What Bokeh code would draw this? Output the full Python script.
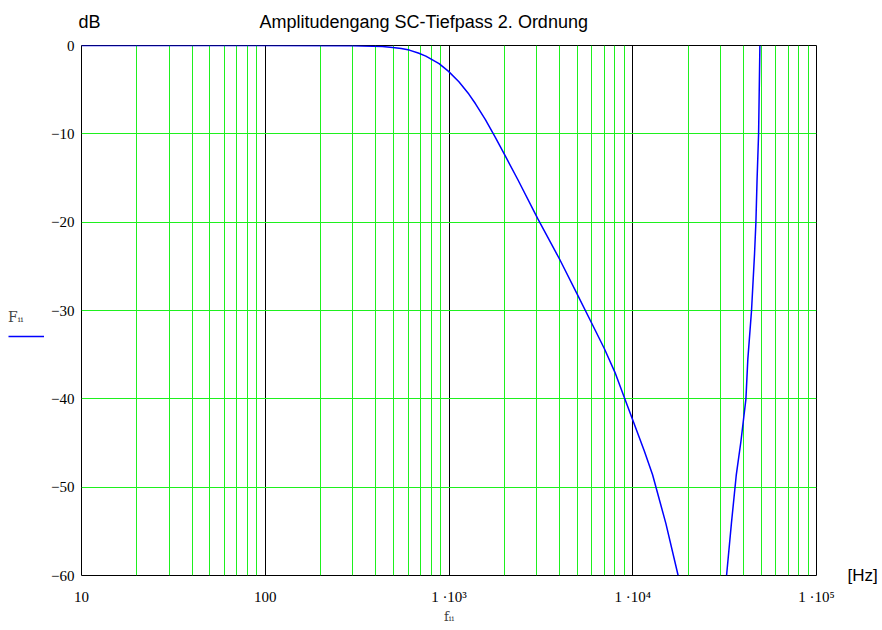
from bokeh.plotting import figure
from bokeh.layouts import row
from bokeh.models import FixedTicker, LogAxis, LinearAxis, Legend, LegendItem
from bokeh.embed import file_html
from bokeh.resources import INLINE

# ---- data ----
lp_freq = [10, 100, 300, 434, 494, 550, 608, 680, 748, 883, 991, 1132, 1282, 1394,
           1578, 1787, 2024, 2371, 3040, 4000, 5000, 6000, 7000, 8000, 8830,
           10000, 11560, 12820, 15140, 17660]
lp_db = [0.0, 0.0, -0.02, -0.12, -0.22, -0.35, -0.52, -0.85, -1.2, -2.05, -2.9,
         -4.1, -5.5, -6.6, -8.4, -10.4, -12.5, -15.2, -19.6, -24.2, -28.2, -31.5,
         -34.3, -37.0, -39.4, -42.4, -45.9, -48.6, -54.1, -60.0]

notch_freq = [32400, 34430, 36600, 38800, 41300, 42300, 44300, 46000, 46800,
              47500, 48400, 49200]
notch_db = [-60.0, -54.1, -48.6, -44.8, -40.0, -35.5, -30.0, -23.6, -20.0,
            -15.1, -10.0, 0.0]

x_ticks = [10, 100, 1000, 10000, 100000]
x_tick_labels = ["10", "100", "1 \u00b710\u00b3", "1 \u00b710\u2074", "1 \u00b710\u2075"]
y_ticks = [-60, -50, -40, -30, -20, -10, 0]
y_tick_labels = ["\u221260", "\u221250", "\u221240", "\u221230", "\u221220", "\u221210", "0"]
minor_x = [m * d for d in [10, 100, 1000, 10000] for m in range(2, 10)]

title_text = "Amplitudengang SC-Tiefpass 2. Ordnung"
unit_y = "dB"
unit_x = "[Hz]"
x_name = "f\u1d62\u1d62"
y_name = "F\u1d62\u1d62"

# header text anchors along the x scale (layout only)
header_pos = [11.05, 728.0]

GREEN = "#1ef01e"
BLUE = "#0000ff"

p = figure(width=832, height=626, x_axis_type="log",
           x_range=(10, 100000), y_range=(-60, 0),
           output_backend="svg", toolbar_location=None,
           min_border_left=32, min_border_right=61,
           min_border_top=45, min_border_bottom=44)
p.background_fill_color = "white"
p.border_fill_color = "white"
p.outline_line_color = "black"
p.outline_line_width = 1

def style_axis(ax, font="Liberation Serif", size="15px"):
    ax.axis_line_color = None
    ax.major_tick_line_color = None
    ax.minor_tick_line_color = None
    ax.major_tick_out = 0
    ax.major_tick_in = 0
    ax.major_label_text_font = font
    ax.major_label_text_font_size = size
    ax.major_label_text_color = "black"

for ax, ticks, labels in ((p.xaxis[0], x_ticks, x_tick_labels), (p.yaxis[0], y_ticks, y_tick_labels)):
    ax.ticker = FixedTicker(ticks=ticks)
    ax.major_label_overrides = {t: l for t, l in zip(ticks, labels)}
    style_axis(ax)
p.xaxis.major_label_standoff = 13
p.yaxis.major_label_standoff = 7

p.xaxis.axis_label = x_name
p.xaxis.axis_label_text_font = "DejaVu Serif"
p.xaxis.axis_label_text_font_size = "13px"
p.xaxis.axis_label_text_font_style = "normal"
p.xaxis.axis_label_standoff = 1

# header texts as an axis above
top_ax = LogAxis(ticker=FixedTicker(ticks=header_pos),
                 major_label_overrides={header_pos[0]: unit_y, header_pos[1]: title_text})
style_axis(top_ax, font="Liberation Sans", size="18px")
top_ax.major_label_standoff = 14
p.add_layout(top_ax, "above")

# unit label on the right at the bottom edge
right_ax = LinearAxis(ticker=FixedTicker(ticks=[-60]),
                      major_label_overrides={-60: unit_x})
style_axis(right_ax, font="Liberation Sans", size="17px")
right_ax.major_label_standoff = 31
p.add_layout(right_ax, "right")

# grid
p.xgrid.ticker = FixedTicker(ticks=x_ticks, minor_ticks=minor_x)
p.xgrid.grid_line_color = "black"
p.xgrid.grid_line_width = 1
p.xgrid.minor_grid_line_color = GREEN
p.xgrid.minor_grid_line_width = 1
p.ygrid.ticker = FixedTicker(ticks=y_ticks)
p.ygrid.grid_line_color = GREEN
p.ygrid.grid_line_width = 1

# curves
p.line(lp_freq, lp_db, line_color=BLUE, line_width=1.5)
p.line(notch_freq, notch_db, line_color=BLUE, line_width=1.5)

# narrow side strip holding the trace name with its line sample
side = figure(width=48, height=626, x_range=(0, 1), y_range=p.y_range,
              output_backend="svg", toolbar_location=None,
              min_border_left=0, min_border_right=0,
              min_border_top=0, min_border_bottom=0)
side.axis.visible = False
side.grid.visible = False
side.outline_line_color = None
side.background_fill_color = "white"
side.border_fill_color = "white"
# same trace, outside this strip's x range: only its legend key is visible
key = side.line(x=lp_freq, y=lp_db, line_color=BLUE, line_width=1.5)
leg = Legend(items=[LegendItem(label=" ", renderers=[key])],
             title=y_name, title_text_font="DejaVu Serif",
             title_text_font_size="14px", title_text_font_style="normal",
             title_standoff=9, location=(8, 237),
             padding=0, margin=0, spacing=0,
             glyph_width=36, glyph_height=4, label_width=0, label_height=4,
             label_standoff=0, label_text_font_size="1px",
             border_line_color=None, background_fill_alpha=0)
side.add_layout(leg)

layout = row(side, p, spacing=0)
open("out.html", "w").write(file_html(layout, INLINE))
